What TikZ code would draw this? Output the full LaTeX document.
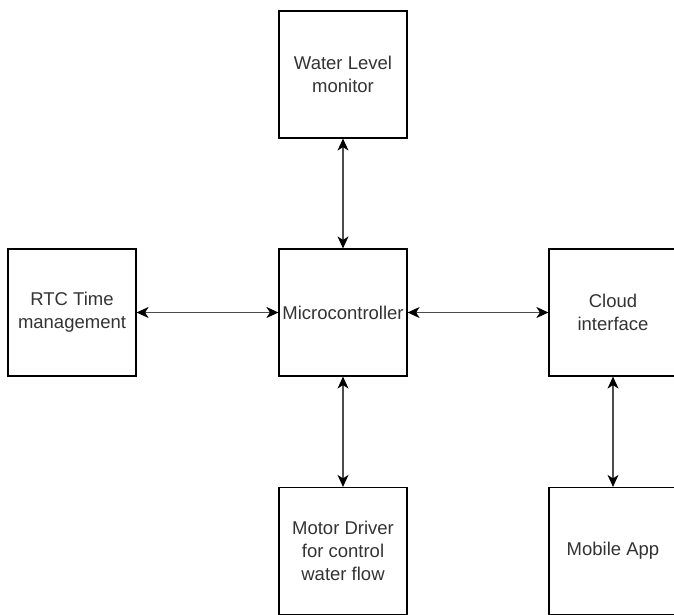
\documentclass[tikz,border=0pt]{standalone}
\usepackage{fontspec}
\setmainfont{Liberation Sans}
\usetikzlibrary{arrows.meta}
\definecolor{txt}{HTML}{333333}
\tikzset{
  blk/.style={draw=black, line width=1.2pt, minimum width=128pt, minimum height=127pt, inner sep=0pt,
    align=center, text=txt, font=\fontsize{18.5}{23}\selectfont},
  tipx/.style={Stealth[length=12pt,width=11pt,inset=3.5pt,color=black,fill=black]},
  link/.style={draw=black!70, line width=1.2pt, {Stealth[length=12pt,width=11pt,inset=3.5pt,black]}-{Stealth[length=12pt,width=11pt,inset=3.5pt,black]}}
}
\begin{document}
\begin{tikzpicture}[x=1pt,y=-1pt]
\useasboundingbox (0,0) rectangle (674,615);
\node[blk] (wl) at (343,74.5) {Water Level\\monitor};
\node[blk] (rtc) at (72,312.5) {RTC Time\\management};
\node[blk] (mc) at (343,312.5) {Microcontroller};
\node[blk] (cl) at (613,312.5) {Cloud\\interface};
\node[blk] (md) at (343,551) {Motor Driver\\for control\\water flow};
\node[blk] (ma) at (613,551) {Mobile App};
\draw[link] (wl) -- (mc);
\draw[link] (rtc) -- (mc);
\draw[link] (mc) -- (cl);
\draw[link] (mc) -- (md);
\draw[link] (cl) -- (ma);
\end{tikzpicture}
\end{document}
